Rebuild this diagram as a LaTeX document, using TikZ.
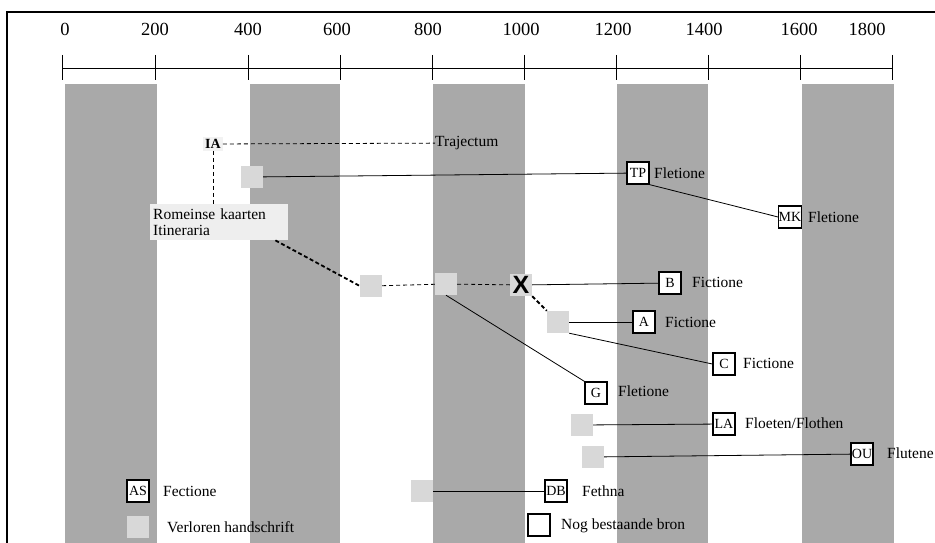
\documentclass[tikz,border=0pt]{standalone}
\usepackage{fontspec}
\setmainfont{Liberation Serif}
\newfontfamily\xfont{Liberation Sans}
\definecolor{bandgray}{HTML}{A9A9A9}
\definecolor{lostgray}{HTML}{D8D8D8}
\definecolor{romgray}{HTML}{EEEEEE}
\definecolor{iagray}{HTML}{F2F2F2}
\begin{document}
\begin{tikzpicture}[x=1pt,y=-1pt,
  band/.style={fill=bandgray, draw=none},
  lost/.style={fill=lostgray, draw=none, minimum size=22pt, inner sep=0pt},
  src/.style={draw=black, line width=1.3pt, fill=white, minimum size=22pt, inner sep=0pt, font=\fontsize{14}{15}\selectfont},
  lab/.style={anchor=west, inner sep=0pt, font=\fontsize{15.5}{17}\selectfont},
  num/.style={inner sep=0pt, font=\fontsize{18.5}{20}\selectfont},
  conn/.style={line width=0.8pt},
  thindash/.style={line width=0.8pt, dash pattern=on 4pt off 3pt},
  thickdash/.style={line width=1.8pt, dash pattern=on 4pt off 2.5pt}]
\useasboundingbox (0,0) rectangle (935,543);
\fill[white] (0,0) rectangle (935,543);
% frame
\draw[line width=1.2pt] (935,12) -- (7,12) -- (7,543);
% bands
\foreach \a/\b in {65/157, 250/340, 433/525, 617/708, 802/894}
  \fill[bandgray] (\a,84) rectangle (\b,543);
% axis
\draw[line width=0.9pt] (62,68) -- (892,68);
\foreach \t in {62,155,248,340,432,524,616,708,800,892}
  \draw[line width=0.9pt] (\t,55) -- (\t,80);
\foreach \x/\l in {65/0,155/200,248/400,337/600,428/800,521/1000,613/1200,704/1400,799/1600,867/1800}
  \node[num] (n\l) at (\x,29) {\l};
% nodes
\node[fill=iagray, inner sep=2pt, font=\bfseries\fontsize{14}{16}\selectfont] (IA) at (213,144) {IA};
\node[lab] (Traj) at (435,143) {Trajectum};
\node[fill=romgray, anchor=north west, minimum width=138pt, minimum height=36pt,
      text width=132pt, align=left, inner sep=3pt, font=\fontsize{15.5}{16}\selectfont]
      (R) at (150,204) {Romeinse kaarten\\Itineraria};
\node[lost] (L1) at (252,177) {};
\node[src] (TP) at (638,173) {TP};
\node[lab] (TPl) at (654,173) {Fletione};
\node[src] (MK) at (790,217) {MK};
\node[lab] (MKl) at (808,217) {Fletione};
\node[lost] (L2) at (371,286) {};
\node[lost] (L3) at (446,284) {};
\node[lost, font=\xfont\bfseries\fontsize{25}{26}\selectfont] (X) at (521,285) {X};
\node[src] (B) at (670,283) {B};
\node[lab] (Bl) at (692,282) {Fictione};
\node[lost] (L4) at (558,322) {};
\node[src] (A) at (644,322) {A};
\node[lab] (Al) at (665,322) {Fictione};
\node[src] (C) at (724,364) {C};
\node[lab] (Cl) at (743,363) {Fictione};
\node[src] (G) at (596,393) {G};
\node[lab] (Gl) at (618,391) {Fletione};
\node[lost] (L5) at (582,425) {};
\node[src] (LA) at (724,424) {LA};
\node[lab] (LAl) at (745,423) {Floeten/Flothen};
\node[lost] (L6) at (593,457) {};
\node[src] (OU) at (862,454) {OU};
\node[lab] (OUl) at (887,453) {Flutene};
\node[lost] (L7) at (422,491) {};
\node[src] (DB) at (556,491) {DB};
\node[lab] (DBl) at (582,491) {Fethna};
% legend
\node[src] (AS) at (138,491) {AS};
\node[lab] (ASl) at (163,491) {Fectione};
\node[lost] (LL) at (138,527) {};
\node[lab] (LLl) at (167,527) {Verloren handschrift};
\node[src] (NB) at (539,525) {};
\node[lab] (NBl) at (561,526) {Nog bestaande bron};
% connectors
\draw[thindash] (IA) -- (Traj);
\draw[thindash] (IA) -- (IA |- R.north);
\draw[conn] (L1) -- (TP);
\draw[conn] (TP.south east) -- (MK.west);
\draw[thickdash] ([xshift=-13pt]R.south east) -- (L2.west);
\draw[thindash] (L2) -- (L3);
\draw[thindash] (L3) -- (X);
\draw[conn] (X) -- (B);
\draw[thickdash] (X.south east) -- (L4.north west);
\draw[conn] (L4) -- (A);
\draw[conn] (L4.south east) -- (C.west);
\draw[conn] (L3.south) -- (G.north west);
\draw[conn] (L5) -- (LA);
\draw[conn] (L6) -- (OU);
\draw[conn] (L7) -- (DB);
\end{tikzpicture}
\end{document}
